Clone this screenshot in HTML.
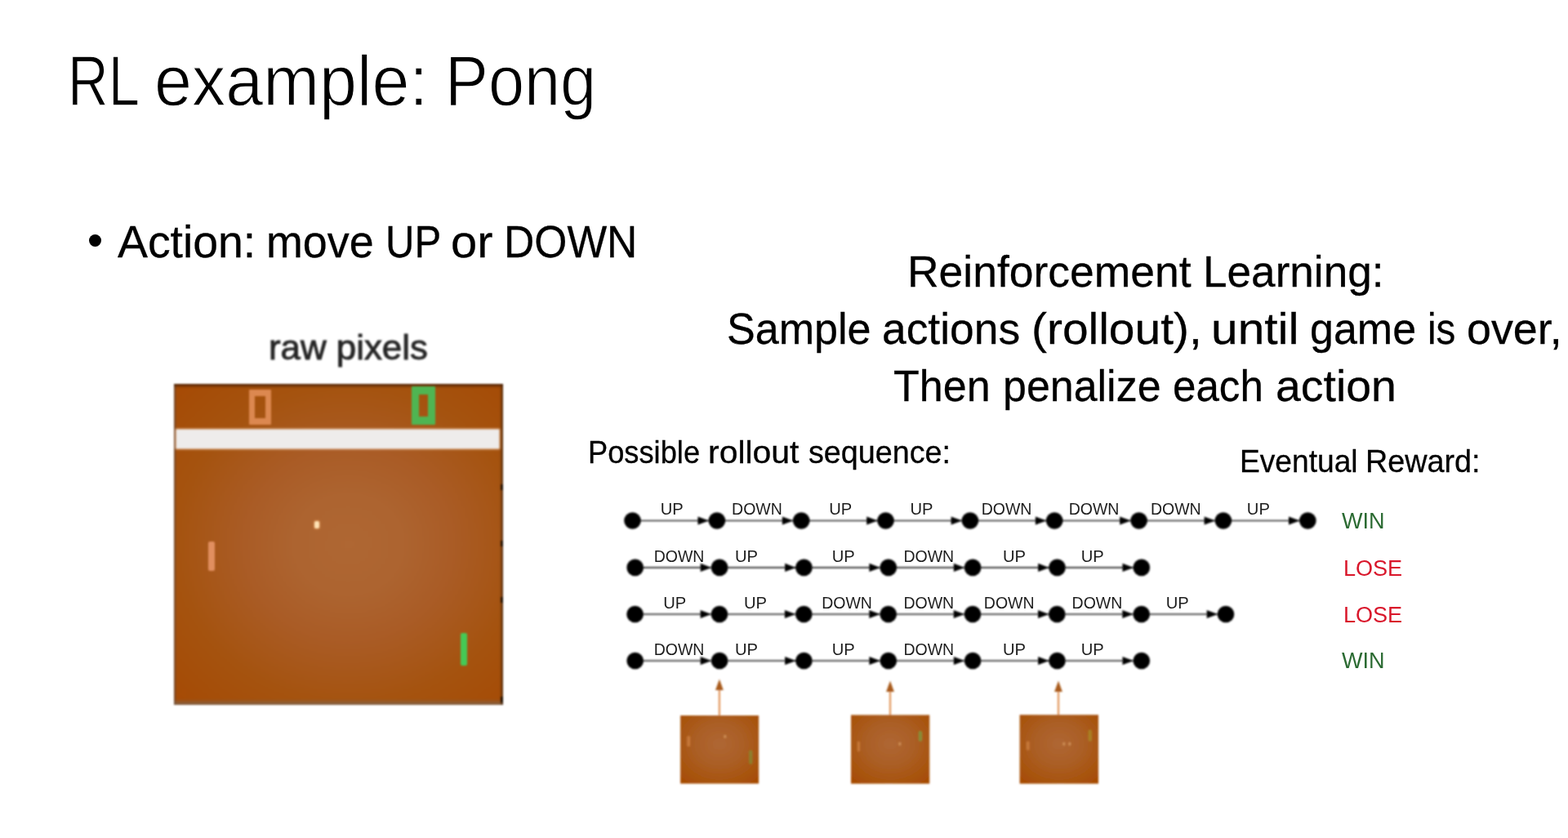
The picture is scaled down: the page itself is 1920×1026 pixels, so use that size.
<!DOCTYPE html>
<html lang="en">
<head>
<meta charset="utf-8">
<title>RL example: Pong</title>
<style>
html,body{margin:0;padding:0;background:#fff}
figure{margin:0;padding:0}
body{width:1920px;height:1026px;position:relative;overflow:hidden;font-family:"Liberation Sans",sans-serif;color:#000}
.t{position:absolute;left:0;margin:0;padding:0;width:1920px;font-weight:400;white-space:nowrap}
.t span{position:absolute;top:0;transform-origin:0 0;white-space:pre;display:block}
#dot{position:absolute;left:109.35px;top:286.85px;width:15.1px;height:15.1px;border-radius:50%;background:#000}
#game{position:absolute;left:212.7px;top:470px;width:403.2px;height:393.4px;filter:blur(.8px);background:radial-gradient(ellipse farthest-corner at 53% 50%,#af6733 0%,#ad6430 22%,#aa5c26 42%,#a5530f 70%,#a64a04 100%);box-shadow:inset 0 4px 3px -1px rgba(70,30,5,.75),inset -3px 0 3px -1px rgba(50,25,5,.7),inset 0 -5px 4px -1px rgba(125,105,85,.75),inset 2px 0 2px 0 rgba(95,75,65,.6)}
#game i{position:absolute;display:block;box-sizing:content-box}
#bar{left:3.5px;top:56.3px;width:394.5px;height:23px;background:#eeeceb;box-shadow:0 0 2px 1px rgba(250,225,205,.9)}
#s1{left:92.4px;top:7px;width:12.5px;height:27px;border:solid #dc8850;border-width:8px 7.8px;border-radius:1px}
#s2{left:291.6px;top:3px;width:10.5px;height:27px;border:solid #4fb552;border-width:10px 9.6px;border-radius:1px}
#p1{left:42.8px;top:192.5px;width:7.5px;height:36.5px;background:#e18f60;border-radius:2px}
#p2{left:351.3px;top:304.5px;width:8.5px;height:40px;background:#45c955;border-radius:2px}
#ball{left:172.6px;top:167.5px;width:5.5px;height:9.5px;background:#ffe2b4;border-radius:2px;box-shadow:0 0 2px 1px rgba(235,160,95,.55)}
.tick{right:0;width:3px;height:7px;background:rgba(20,10,0,.8)}
#raw{position:absolute;margin:0;white-space:nowrap;color:#262626;-webkit-text-stroke:.9px #262626;transform-origin:0 0;filter:blur(1px)}
svg{position:absolute;left:0;top:0}
svg text{font-family:"Liberation Sans",sans-serif}
</style>
</head>
<body>
<h1 id="title" class="t" style="top:54.99px;font-size:87.21px;line-height:87.21px;height:87.21px;-webkit-text-stroke:1.3px #fff"><span style="left:82.91px;transform:scaleX(0.7887)">RL</span> <span style="left:189.14px;transform:scaleX(0.9477)">example:</span> <span style="left:544.94px;transform:scaleX(0.9094)">Pong</span></h1>
<p id="bullet" class="t" style="top:269.03px;font-size:54.8px;line-height:54.8px;height:54.8px;-webkit-text-stroke:0.3px #000"><span style="left:144.44px;transform:scaleX(1.0103)">Action:</span> <span style="left:326.17px;transform:scaleX(0.9826)">move</span> <span style="left:471.76px;transform:scaleX(0.8955)">UP</span> <span style="left:551.92px;transform:scaleX(1.0546)">or</span> <span style="left:617.22px;transform:scaleX(0.9414)">DOWN</span></p>
<p id="rl1" class="t" style="top:305.03px;font-size:54.0px;line-height:54.0px;height:54.0px;-webkit-text-stroke:0.3px #000"><span style="left:1110.76px;transform:scaleX(0.9901)">Reinforcement</span> <span style="left:1472.99px;transform:scaleX(0.9837)">Learning:</span></p>
<p id="rl2" class="t" style="top:375.02px;font-size:54.0px;line-height:54.0px;height:54.0px;-webkit-text-stroke:0.3px #000"><span style="left:889.79px;transform:scaleX(0.9644)">Sample</span> <span style="left:1079.68px;transform:scaleX(0.9883)">actions</span> <span style="left:1262.62px;transform:scaleX(1.0540)">(rollout),</span> <span style="left:1483.04px;transform:scaleX(1.0865)">until</span> <span style="left:1603.87px;transform:scaleX(0.9631)">game</span> <span style="left:1747.76px;transform:scaleX(0.8823)">is</span> <span style="left:1796.09px;transform:scaleX(0.9959)">over,</span></p>
<p id="rl3" class="t" style="top:445.97px;font-size:53.93px;line-height:53.93px;height:53.93px;-webkit-text-stroke:0.3px #000"><span style="left:1093.68px;transform:scaleX(0.9652)">Then</span> <span style="left:1227.60px;transform:scaleX(0.9635)">penalize</span> <span style="left:1435.88px;transform:scaleX(0.9482)">each</span> <span style="left:1561.70px;transform:scaleX(1.0274)">action</span></p>
<p id="poss" class="t" style="top:535.05px;font-size:38.23px;line-height:38.23px;height:38.23px;-webkit-text-stroke:0.3px #000"><span style="left:720.07px;transform:scaleX(0.9487)">Possible</span> <span style="left:866.73px;transform:scaleX(1.0710)">rollout</span> <span style="left:990.20px;transform:scaleX(0.9862)">sequence:</span></p>
<p id="rew" class="t" style="top:546.05px;font-size:38.81px;line-height:38.81px;height:38.81px;-webkit-text-stroke:0.3px #000"><span style="left:1517.90px;transform:scaleX(0.9576)">Eventual</span> <span style="left:1671.85px;transform:scaleX(0.9732)">Reward:</span></p>
<div id="dot"></div>
<figure>
<figcaption id="raw" style="left:329.39px;top:405.49px;font-size:41.83px;line-height:41.83px;transform:scaleX(1.0475)">raw pixels</figcaption>
<div id="game" role="img" aria-label="Pong game frame"><i id="s1"></i><i id="s2"></i><i id="bar"></i><i id="p1"></i><i id="p2"></i><i id="ball"></i><i class="tick" style="top:123px"></i><i class="tick" style="top:192px"></i><i class="tick" style="top:261px"></i><i class="tick" style="top:383px"></i></div>
</figure>
<svg width="1920" height="1026" viewBox="0 0 1920 1026">
<defs>
<radialGradient id="gsm" cx="50%" cy="42%" r="72%"><stop offset="0" stop-color="#af6733"/><stop offset=".4" stop-color="#ab5f27"/><stop offset=".75" stop-color="#a85510"/><stop offset="1" stop-color="#a64b04"/></radialGradient>
<filter id="soft" x="-5%" y="-5%" width="110%" height="110%"><feGaussianBlur stdDeviation="1"/></filter>
<filter id="softt" x="-5%" y="-5%" width="110%" height="110%"><feGaussianBlur stdDeviation=".7"/></filter>
</defs>
<g filter="url(#soft)">
<g class="row">
<line x1="774.5" y1="637.5" x2="1601.3" y2="637.5" stroke="#262626" stroke-width="1.6"/>
<circle cx="774.5" cy="637.5" r="10.35" fill="#000"/>
<circle cx="877.9" cy="637.5" r="10.35" fill="#000"/>
<path d="M868.0 637.5 L854.5 632.4 L854.5 642.6 Z" fill="#000"/>
<circle cx="981.2" cy="637.5" r="10.35" fill="#000"/>
<path d="M971.4 637.5 L957.9 632.4 L957.9 642.6 Z" fill="#000"/>
<circle cx="1084.5" cy="637.5" r="10.35" fill="#000"/>
<path d="M1074.7 637.5 L1061.2 632.4 L1061.2 642.6 Z" fill="#000"/>
<circle cx="1187.9" cy="637.5" r="10.35" fill="#000"/>
<path d="M1178.1 637.5 L1164.6 632.4 L1164.6 642.6 Z" fill="#000"/>
<circle cx="1291.2" cy="637.5" r="10.35" fill="#000"/>
<path d="M1281.4 637.5 L1267.9 632.4 L1267.9 642.6 Z" fill="#000"/>
<circle cx="1394.6" cy="637.5" r="10.35" fill="#000"/>
<path d="M1384.8 637.5 L1371.2 632.4 L1371.2 642.6 Z" fill="#000"/>
<circle cx="1497.9" cy="637.5" r="10.35" fill="#000"/>
<path d="M1488.1 637.5 L1474.6 632.4 L1474.6 642.6 Z" fill="#000"/>
<circle cx="1601.3" cy="637.5" r="10.35" fill="#000"/>
<path d="M1591.5 637.5 L1578.0 632.4 L1578.0 642.6 Z" fill="#000"/>
</g>
<g class="row">
<line x1="777.7" y1="694.9" x2="1397.8" y2="694.9" stroke="#262626" stroke-width="1.6"/>
<circle cx="777.7" cy="694.9" r="10.35" fill="#000"/>
<circle cx="881.1" cy="694.9" r="10.35" fill="#000"/>
<path d="M871.2 694.9 L857.7 689.8 L857.7 700.0 Z" fill="#000"/>
<circle cx="984.4" cy="694.9" r="10.35" fill="#000"/>
<path d="M974.6 694.9 L961.1 689.8 L961.1 700.0 Z" fill="#000"/>
<circle cx="1087.8" cy="694.9" r="10.35" fill="#000"/>
<path d="M1077.9 694.9 L1064.4 689.8 L1064.4 700.0 Z" fill="#000"/>
<circle cx="1191.1" cy="694.9" r="10.35" fill="#000"/>
<path d="M1181.2 694.9 L1167.8 689.8 L1167.8 700.0 Z" fill="#000"/>
<circle cx="1294.5" cy="694.9" r="10.35" fill="#000"/>
<path d="M1284.6 694.9 L1271.1 689.8 L1271.1 700.0 Z" fill="#000"/>
<circle cx="1397.8" cy="694.9" r="10.35" fill="#000"/>
<path d="M1388.0 694.9 L1374.5 689.8 L1374.5 700.0 Z" fill="#000"/>
</g>
<g class="row">
<line x1="777.6" y1="752.0" x2="1501.0" y2="752.0" stroke="#262626" stroke-width="1.6"/>
<circle cx="777.6" cy="752.0" r="10.35" fill="#000"/>
<circle cx="881.0" cy="752.0" r="10.35" fill="#000"/>
<path d="M871.1 752.0 L857.6 746.9 L857.6 757.1 Z" fill="#000"/>
<circle cx="984.3" cy="752.0" r="10.35" fill="#000"/>
<path d="M974.4 752.0 L960.9 746.9 L960.9 757.1 Z" fill="#000"/>
<circle cx="1087.7" cy="752.0" r="10.35" fill="#000"/>
<path d="M1077.8 752.0 L1064.3 746.9 L1064.3 757.1 Z" fill="#000"/>
<circle cx="1191.0" cy="752.0" r="10.35" fill="#000"/>
<path d="M1181.2 752.0 L1167.7 746.9 L1167.7 757.1 Z" fill="#000"/>
<circle cx="1294.3" cy="752.0" r="10.35" fill="#000"/>
<path d="M1284.5 752.0 L1271.0 746.9 L1271.0 757.1 Z" fill="#000"/>
<circle cx="1397.7" cy="752.0" r="10.35" fill="#000"/>
<path d="M1387.8 752.0 L1374.3 746.9 L1374.3 757.1 Z" fill="#000"/>
<circle cx="1501.0" cy="752.0" r="10.35" fill="#000"/>
<path d="M1491.2 752.0 L1477.7 746.9 L1477.7 757.1 Z" fill="#000"/>
</g>
<g class="row">
<line x1="777.7" y1="809.0" x2="1397.8" y2="809.0" stroke="#262626" stroke-width="1.6"/>
<circle cx="777.7" cy="809.0" r="10.35" fill="#000"/>
<circle cx="881.1" cy="809.0" r="10.35" fill="#000"/>
<path d="M871.2 809.0 L857.7 803.9 L857.7 814.1 Z" fill="#000"/>
<circle cx="984.4" cy="809.0" r="10.35" fill="#000"/>
<path d="M974.6 809.0 L961.1 803.9 L961.1 814.1 Z" fill="#000"/>
<circle cx="1087.8" cy="809.0" r="10.35" fill="#000"/>
<path d="M1077.9 809.0 L1064.4 803.9 L1064.4 814.1 Z" fill="#000"/>
<circle cx="1191.1" cy="809.0" r="10.35" fill="#000"/>
<path d="M1181.2 809.0 L1167.8 803.9 L1167.8 814.1 Z" fill="#000"/>
<circle cx="1294.5" cy="809.0" r="10.35" fill="#000"/>
<path d="M1284.6 809.0 L1271.1 803.9 L1271.1 814.1 Z" fill="#000"/>
<circle cx="1397.8" cy="809.0" r="10.35" fill="#000"/>
<path d="M1388.0 809.0 L1374.5 803.9 L1374.5 814.1 Z" fill="#000"/>
</g>
</g>
<g filter="url(#softt)">
<g class="labels" font-size="20.0" fill="#1e1e1e">
<text transform="translate(808.64 629.9) scale(1.0085 1)">UP</text>
<text transform="translate(896.10 629.9) scale(0.9759 1)">DOWN</text>
<text transform="translate(1015.24 629.9) scale(1.0085 1)">UP</text>
<text transform="translate(1114.54 629.9) scale(1.0085 1)">UP</text>
<text transform="translate(1201.70 629.9) scale(0.9759 1)">DOWN</text>
<text transform="translate(1308.70 629.9) scale(0.9759 1)">DOWN</text>
<text transform="translate(1408.90 629.9) scale(0.9759 1)">DOWN</text>
<text transform="translate(1526.84 629.9) scale(1.0085 1)">UP</text>
</g>
<g class="labels" font-size="20.0" fill="#1e1e1e">
<text transform="translate(800.70 687.5) scale(0.9759 1)">DOWN</text>
<text transform="translate(900.04 687.5) scale(1.0085 1)">UP</text>
<text transform="translate(1018.74 687.5) scale(1.0085 1)">UP</text>
<text transform="translate(1106.40 687.5) scale(0.9759 1)">DOWN</text>
<text transform="translate(1227.94 687.5) scale(1.0085 1)">UP</text>
<text transform="translate(1323.64 687.5) scale(1.0085 1)">UP</text>
</g>
<g class="labels" font-size="20.0" fill="#1e1e1e">
<text transform="translate(812.24 745.0) scale(1.0085 1)">UP</text>
<text transform="translate(910.94 745.0) scale(1.0085 1)">UP</text>
<text transform="translate(1006.20 745.0) scale(0.9759 1)">DOWN</text>
<text transform="translate(1106.40 745.0) scale(0.9759 1)">DOWN</text>
<text transform="translate(1204.80 745.0) scale(0.9759 1)">DOWN</text>
<text transform="translate(1312.60 745.0) scale(0.9759 1)">DOWN</text>
<text transform="translate(1427.64 745.0) scale(1.0085 1)">UP</text>
</g>
<g class="labels" font-size="20.0" fill="#1e1e1e">
<text transform="translate(800.70 802.2) scale(0.9759 1)">DOWN</text>
<text transform="translate(900.04 802.2) scale(1.0085 1)">UP</text>
<text transform="translate(1018.74 802.2) scale(1.0085 1)">UP</text>
<text transform="translate(1106.40 802.2) scale(0.9759 1)">DOWN</text>
<text transform="translate(1227.94 802.2) scale(1.0085 1)">UP</text>
<text transform="translate(1323.64 802.2) scale(1.0085 1)">UP</text>
</g>
<text transform="translate(1642.88 646.8) scale(0.9739 1)" font-size="27.8" fill="#2c6b32">WIN</text>
<text transform="translate(1644.88 704.6) scale(0.9746 1)" font-size="27.8" fill="#d9182c">LOSE</text>
<text transform="translate(1644.88 762.2) scale(0.9746 1)" font-size="27.8" fill="#d9182c">LOSE</text>
<text transform="translate(1642.88 817.8) scale(0.9739 1)" font-size="27.8" fill="#2c6b32">WIN</text>
</g>
<g filter="url(#soft)">
<line x1="880.9" y1="877.0" x2="880.9" y2="839.5" stroke="#e39a60" stroke-width="2.3"/>
<path d="M880.9 831.5 L876.0 845.0 L885.8 845.0 Z" fill="#a85a1a"/>
<rect x="833.1" y="876.0" width="96.0" height="83.4" fill="url(#gsm)"/>
<rect x="841.3" y="901" width="3.8" height="13" rx="1.5" fill="#d98a4a" opacity=".6"/>
<rect x="917.2" y="918.5" width="4" height="17" rx="1.5" fill="#7a9a3a" opacity=".6"/>
<rect x="886.5" y="900" width="2.6" height="3.6" fill="#cf8f55"/>
<line x1="1090.0" y1="876.4" x2="1090.0" y2="841.5" stroke="#e39a60" stroke-width="2.3"/>
<path d="M1090.0 833.5 L1085.1 847.0 L1094.9 847.0 Z" fill="#a85a1a"/>
<rect x="1042.0" y="875.4" width="96.2" height="84.1" fill="url(#gsm)"/>
<rect x="1049.8" y="907.5" width="3.2" height="12.5" rx="1.5" fill="#d98a4a" opacity=".6"/>
<rect x="1124.8" y="895" width="4.2" height="12.5" rx="1.5" fill="#6fae4a" opacity=".6"/>
<rect x="1100.5" y="909" width="2.6" height="3.6" fill="#cf8f55"/>
<line x1="1296.0" y1="876.2" x2="1296.0" y2="841.5" stroke="#e39a60" stroke-width="2.3"/>
<path d="M1296.0 833.5 L1291.1 847.0 L1300.9 847.0 Z" fill="#a85a1a"/>
<rect x="1248.6" y="875.2" width="96.4" height="84.3" fill="url(#gsm)"/>
<rect x="1256.8" y="907.5" width="3.8" height="11" rx="1.5" fill="#d98a4a" opacity=".6"/>
<rect x="1332.6" y="893.5" width="4.2" height="14" rx="1.5" fill="#a89a2a" opacity=".6"/>
<rect x="1301.5" y="909" width="2.6" height="3.6" fill="#cf8f55"/>
<rect x="1308.5" y="909" width="2.6" height="3.6" fill="#cf8f55"/>
</g>
</svg>
</body>
</html>
